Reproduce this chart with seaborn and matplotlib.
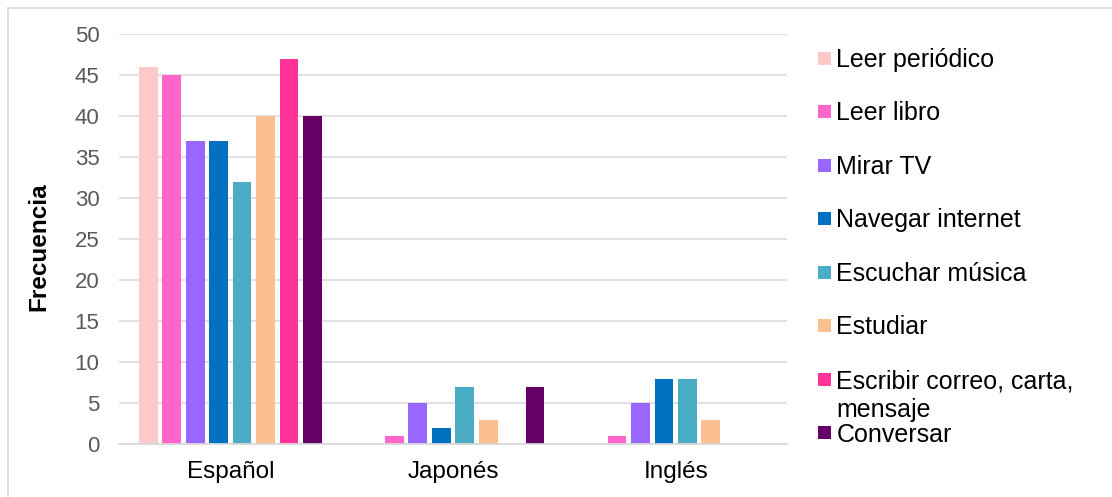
import matplotlib
matplotlib.use("Agg")
import matplotlib.pyplot as plt
from matplotlib.patches import Rectangle
from matplotlib.lines import Line2D
import pandas as pd
import seaborn as sns

# Data
languages = ["Español", "Japonés", "Inglés"]
activities = [
    "Leer periódico",
    "Leer libro",
    "Mirar TV",
    "Navegar internet",
    "Escuchar música",
    "Estudiar",
    "Escribir correo, carta, mensaje",
    "Conversar",
]
leer_periodico = [46, 0, 0]
leer_libro = [45, 1, 1]
mirar_tv = [37, 5, 5]
navegar_internet = [37, 2, 8]
escuchar_musica = [32, 7, 8]
estudiar = [40, 3, 3]
escribir = [47, 0, 0]
conversar = [40, 7, 0]
y_ticks = [0, 5, 10, 15, 20, 25, 30, 35, 40, 45, 50]

series = [leer_periodico, leer_libro, mirar_tv, navegar_internet,
          escuchar_musica, estudiar, escribir, conversar]
colors = ["#FFC9C9", "#FF66CC", "#9966FF", "#0070C0",
          "#4BACC6", "#FAC090", "#FF3399", "#660066"]
legend_labels = ["Leer periódico", "Leer libro", "Mirar TV", "Navegar internet",
                 "Escuchar música", "Estudiar", "Escribir correo, carta,\nmensaje",
                 "Conversar"]

rows = []
for act, vals in zip(activities, series):
    for lang, v in zip(languages, vals):
        rows.append({"Idioma": lang, "Actividad": act, "Frecuencia": v})
df = pd.DataFrame(rows)

sns.set_theme(style="white")
plt.rcParams["font.family"] = ["Liberation Sans", "DejaVu Sans"]

W, H = 1112, 497
fig = plt.figure(figsize=(W / 100, H / 100), dpi=100)
ax = fig.add_axes([119 / W, 1 - 444.3 / H, (787 - 119) / W, (444.3 - 34) / H])

sns.barplot(
    data=df, x="Idioma", y="Frecuencia", hue="Actividad",
    order=languages, hue_order=activities,
    palette=dict(zip(activities, colors)),
    width=0.842, gap=0.2, linewidth=0, saturation=1,
    errorbar=None, legend=False, ax=ax,
)

ax.set_ylim(0, 50)
ax.set_xlim(-0.5, len(languages) - 0.5)
ax.set_yticks(y_ticks)
ax.yaxis.grid(True, color="#D9D9D9", linewidth=1.1)
ax.set_axisbelow(True)
for side in ["left", "right", "top"]:
    ax.spines[side].set_visible(False)
ax.spines["bottom"].set_color("#D9D9D9")
ax.spines["bottom"].set_linewidth(1.3)
ax.tick_params(axis="y", length=0, pad=14, labelsize=16, labelcolor="#595959")
ax.tick_params(axis="x", length=0, pad=12, labelsize=17.5, labelcolor="#000000")
ax.set_xlabel("")
ax.set_ylabel("Frecuencia", fontsize=17.5, fontweight="bold", color="#000000")
ax.yaxis.set_label_coords(-(119 - 50) / (787 - 119), (444.3 - 247) / (444.3 - 34))

# Legend on the right, drawn in pixel positions
sq = 13
line_px = 29
row_centers = [58, 111.5, 165, 218.5, 272, 325.5, 379, 432.5]
for lab, col, yc in zip(legend_labels, colors, row_centers):
    fig.add_artist(Rectangle((818 / W, 1 - (yc + sq / 2) / H), sq / W, sq / H,
                             transform=fig.transFigure, facecolor=col,
                             edgecolor="none"))
    n_extra = lab.count("\n")
    fig.text(836.5 / W, 1 - (yc + 9 + n_extra * line_px) / H, lab, fontsize=18,
             color="#000000", va="baseline", ha="left", linespacing=1.22)

# Light frame along the top and left edges
fig.add_artist(Line2D([7.5 / W, 7.5 / W], [0, 1 - 7.5 / H], transform=fig.transFigure,
                      color="#D9D9D9", linewidth=1.2))
fig.add_artist(Line2D([7.5 / W, 1], [1 - 7.5 / H, 1 - 7.5 / H], transform=fig.transFigure,
                      color="#D9D9D9", linewidth=1.2))

fig.savefig("out.png", dpi=100, facecolor="white")
